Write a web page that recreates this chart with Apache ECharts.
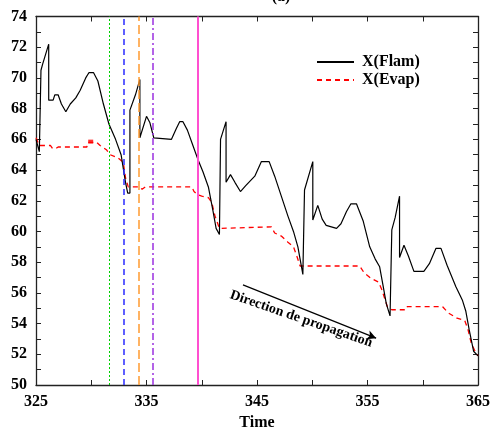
<!DOCTYPE html>
<html><head><meta charset="utf-8">
<script src="https://cdn.jsdelivr.net/npm/echarts@6/dist/echarts.min.js"></script>
<style>html,body{margin:0;padding:0;background:#fff}#c{width:490px;height:427px}</style>
</head><body><div id="c"></div>
<script>
// ---- data ----
const xTickLabels = [325, 335, 345, 355, 365];
const yTickLabels = [50, 52, 54, 56, 58, 60, 62, 64, 66, 68, 70, 72, 74];
const legendNames = ['X(Flam)', 'X(Evap)'];
const flam = [
  [325.0,66.0],[325.3,65.2],[325.45,65.2],[325.45,70.5],[325.6,70.9],[326.15,72.2],[326.15,68.55],
  [326.55,68.55],[326.7,68.9],[327.0,68.9],[327.3,68.3],[327.7,67.8],[328.1,68.3],[328.6,68.7],
  [329.0,69.2],[329.5,70.0],[329.8,70.35],[330.2,70.35],[330.6,69.8],[331.1,68.3],[331.6,67.0],
  [332.2,66.0],[332.7,65.0],[333.1,63.2],[333.3,62.5],[333.5,62.5],[333.5,67.9],[334.0,68.9],
  [334.4,69.9],[334.4,66.1],[335.0,67.5],[335.3,67.1],[335.66,66.1],[335.8,66.0],[337.26,66.0],
  [337.7,66.7],[338.0,67.15],[338.3,67.15],[338.7,66.6],[339.2,65.6],[339.7,64.6],[340.1,63.9],
  [340.6,62.9],[341.0,61.4],[341.3,60.2],[341.6,59.8],[341.7,59.8],[341.7,66.0],[342.2,67.15],
  [342.2,63.2],[342.6,63.7],[343.0,63.2],[343.5,62.6],[344.0,63.0],[344.8,63.6],[345.4,64.55],
  [346.1,64.55],[346.6,63.6],[347.2,62.3],[347.8,61.0],[348.3,60.0],[348.7,59.0],[349.15,57.2],
  [349.3,57.2],[349.3,62.7],[350.05,64.55],[350.05,60.75],[350.5,61.7],[350.9,60.8],[351.26,60.4],
  [352.2,60.2],[352.6,60.5],[353.1,61.3],[353.5,61.8],[354.0,61.8],[354.6,60.7],[355.2,59.0],
  [355.7,58.2],[356.1,57.7],[356.4,56.5],[356.7,55.3],[357.04,54.5],[357.2,54.5],[357.2,60.1],
  [357.5,60.9],[357.9,62.3],[357.9,58.3],[358.3,59.1],[358.7,58.4],[359.2,57.4],[360.1,57.4],
  [360.6,57.9],[361.2,58.9],[361.65,58.9],[362.2,57.8],[363.0,56.4],[363.6,55.5],[363.9,54.8],
  [364.2,53.6],[364.6,52.2],[365.0,51.9]
];
const evap = [
  [325.0,66.1],[325.3,65.6],[326.3,65.6],[326.5,65.4],[326.8,65.4],[327.0,65.5],[329.6,65.5],
  [329.7,65.8],[330.5,65.8],[330.8,65.6],[331.4,65.3],[331.7,65.0],[332.4,64.8],[332.9,64.5],
  [333.1,63.5],[333.35,62.9],[334.4,62.9],[334.6,62.75],[334.9,62.9],[339.1,62.9],[339.3,62.6],
  [339.6,62.4],[340.0,62.3],[340.6,62.2],[340.9,61.9],[341.2,61.0],[341.6,60.2],[346.3,60.3],
  [346.6,59.9],[347.2,59.7],[347.8,59.3],[348.3,59.0],[348.6,58.4],[348.9,57.75],[354.3,57.75],
  [354.7,57.3],[355.3,56.96],[356.0,56.7],[356.3,56.2],[356.8,55.1],[357.2,54.9],[358.5,54.9],
  [358.6,55.1],[361.8,55.1],[362.3,54.7],[363.1,54.35],[363.8,54.2],[364.1,53.6],[364.4,52.7],
  [364.8,52.1],[365.0,51.9]
];
const evapMarker = [[329.95, 65.85]];
const vLines = [331.6, 332.9, 334.3, 335.6, 339.6];
const arrowFrom = [343.73, 56.52];
const arrowTo = [355.78, 53.05];
const arrowText = 'Direction de propagation';
const arrowTextAt = [349.0, 54.3];
const titleText = '(a)';

// ---- styles ----
const FONT = 'Liberation Serif';
const vStyles = [
  {color:'#00d000', type:[2,2], width:1},
  {color:'#2a2aff', type:[6,4], width:1.5},
  {color:'#ff9a30', type:[9,4], width:1.5},
  {color:'#9a30e0', type:[7,3,2,3], width:1.5},
  {color:'#ff50d0', type:'solid', width:2}
];
const axisLine = {show:true, lineStyle:{color:'#222', width:1.3}};
const tick = {show:true, inside:true, length:5, lineStyle:{color:'#222', width:1}};
const lblStyle = {fontFamily:FONT, fontWeight:'bold', fontSize:16, color:'#000'};

const chart = echarts.init(document.getElementById('c'), null, {renderer:'canvas'});
chart.setOption({
  animation:false,
  backgroundColor:'#fff',
  grid:{left:36, right:12, top:16.5, bottom:42, containLabel:false, outerBoundsMode:'none'},
  legend:{
    data:legendNames, orient:'vertical', left:316, top:54, padding:0,
    itemWidth:37, itemHeight:12, itemGap:2,
    textStyle:{fontFamily:FONT, fontWeight:'bold', fontSize:16, color:'#000', padding:[0,0,0,3]},
    itemStyle:{color:'rgba(0,0,0,0)', borderColor:'rgba(0,0,0,0)', borderWidth:0, opacity:0}
  },
  xAxis:[
    {type:'value', min:325, max:365, interval:5, position:'bottom',
     name:'Time', nameLocation:'middle', nameGap:26, nameTextStyle:lblStyle,
     axisLine, axisTick:tick, splitLine:{show:false},
     axisLabel:Object.assign({margin:9, formatter:v => xTickLabels.includes(v) ? String(v) : ''}, lblStyle)},
    {type:'value', min:325, max:365, interval:5, position:'top',
     axisLine, axisTick:tick, splitLine:{show:false}, axisLabel:{show:false}}
  ],
  yAxis:[
    {type:'value', min:50, max:74, interval:1, position:'left',
     axisLine, axisTick:tick, splitLine:{show:false},
     axisLabel:Object.assign({margin:9, formatter:v => yTickLabels.includes(v) ? String(v) : ''}, lblStyle)},
    {type:'value', min:50, max:74, interval:1, position:'right',
     axisLine, axisTick:tick, splitLine:{show:false}, axisLabel:{show:false}}
  ],
  series:[
    {name:'vlines', type:'line', data:[], silent:true, z:1,
     markLine:{silent:true, symbol:'none', label:{show:false},
       data: vLines.map((x,i) => ({xAxis:x, lineStyle:vStyles[i]}))}},
    {name:legendNames[1], type:'line', data:evap, symbol:'none', z:3,
     lineStyle:{color:'#ff0000', width:1.3, type:[5,4]}, itemStyle:{color:'#ff0000'}},
    {name:legendNames[0], type:'line', data:flam, symbol:'none', z:4,
     lineStyle:{color:'#000', width:1.2}, itemStyle:{color:'#000'}},
    {name:'marker', type:'scatter', data:evapMarker, symbol:'rect', symbolSize:[5,4], z:3,
     itemStyle:{color:'#ff0000'}, silent:true},
    {name:'arrow', type:'line', data:[], silent:true, z:5,
     markLine:{silent:true, symbol:['none','arrow'], symbolSize:[7,9], label:{show:false},
       lineStyle:{color:'#000', width:1.2, type:'solid'},
       data:[[{coord:arrowFrom},{coord:arrowTo}]]}}
  ]
});

const p = chart.convertToPixel({xAxisIndex:0, yAxisIndex:0}, arrowTextAt);
chart.setOption({
  graphic:[
    {type:'text', x:p[0], y:p[1], rotation:-19*Math.PI/180, silent:true,
     style:{text:arrowText, fontFamily:FONT, fontWeight:'bold', fontSize:14, fill:'#000',
            align:'center', verticalAlign:'middle'}},
    {type:'text', x:281, y:5, silent:true,
     style:{text:titleText, fontFamily:FONT, fontWeight:'bold', fontSize:16, fill:'#000',
            align:'center', verticalAlign:'bottom'}}
  ]
});
</script></body></html>
